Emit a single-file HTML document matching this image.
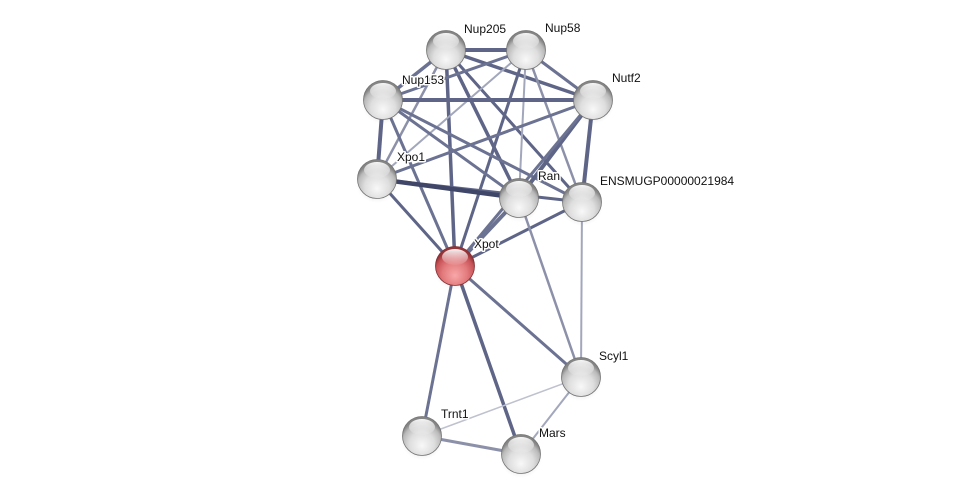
<!DOCTYPE html>
<html>
<head>
<meta charset="utf-8">
<style>
html,body{margin:0;padding:0;background:#fff;}
svg{display:block;}
text{font-family:"Liberation Sans",Arial,sans-serif;font-size:12px;fill:#111;stroke:#fff;stroke-width:3px;paint-order:stroke;stroke-linejoin:round;}
</style>
</head>
<body>
<svg width="975" height="499" viewBox="0 0 975 499" xmlns="http://www.w3.org/2000/svg">
<defs>
  <radialGradient id="gG" cx="50%" cy="68%" r="58%" fx="50%" fy="75%">
    <stop offset="0%" stop-color="#f8f8f8"/>
    <stop offset="55%" stop-color="#dedede"/>
    <stop offset="85%" stop-color="#bababa"/>
    <stop offset="100%" stop-color="#858585"/>
  </radialGradient>
  <radialGradient id="gR" cx="50%" cy="68%" r="58%" fx="50%" fy="75%">
    <stop offset="0%" stop-color="#f8a8aa"/>
    <stop offset="55%" stop-color="#e27a7c"/>
    <stop offset="85%" stop-color="#c85458"/>
    <stop offset="100%" stop-color="#963438"/>
  </radialGradient>
  <linearGradient id="hl" x1="0" y1="0" x2="0" y2="1">
    <stop offset="0%" stop-color="#fff" stop-opacity="0.95"/>
    <stop offset="100%" stop-color="#fff" stop-opacity="0.05"/>
  </linearGradient>
  <radialGradient id="sh" cx="50%" cy="50%" r="50%">
    <stop offset="0%" stop-color="#000" stop-opacity="0.18"/>
    <stop offset="100%" stop-color="#000" stop-opacity="0"/>
  </radialGradient>
</defs>

<g stroke-linecap="butt" fill="none">
  <line x1="446" y1="50" x2="526" y2="50" stroke="#5e6587" stroke-width="4"/>
  <line x1="446" y1="50" x2="383" y2="100" stroke="#6b7292" stroke-width="3.5"/>
  <line x1="446" y1="50" x2="593" y2="100" stroke="#5e6587" stroke-width="3.5"/>
  <line x1="446" y1="50" x2="377" y2="179" stroke="#8c91a9" stroke-width="2.5"/>
  <line x1="446" y1="50" x2="455" y2="266" stroke="#5e6587" stroke-width="3.5"/>
  <line x1="446" y1="50" x2="519" y2="198" stroke="#5e6587" stroke-width="3.5"/>
  <line x1="446" y1="50" x2="582" y2="202" stroke="#5e6587" stroke-width="3"/>
  <line x1="526" y1="50" x2="383" y2="100" stroke="#6b7292" stroke-width="3"/>
  <line x1="526" y1="50" x2="593" y2="100" stroke="#6b7292" stroke-width="3"/>
  <line x1="526" y1="50" x2="377" y2="179" stroke="#a2a7bc" stroke-width="2"/>
  <line x1="526" y1="50" x2="455" y2="266" stroke="#5e6587" stroke-width="3"/>
  <line x1="526" y1="50" x2="519" y2="198" stroke="#a2a7bc" stroke-width="2"/>
  <line x1="526" y1="50" x2="582" y2="202" stroke="#8c91a9" stroke-width="2.5"/>
  <line x1="383" y1="100" x2="593" y2="100" stroke="#5e6587" stroke-width="4"/>
  <line x1="383" y1="100" x2="377" y2="179" stroke="#5e6587" stroke-width="4"/>
  <line x1="383" y1="100" x2="519" y2="198" stroke="#6b7292" stroke-width="3"/>
  <line x1="383" y1="100" x2="582" y2="202" stroke="#6b7292" stroke-width="3"/>
  <line x1="383" y1="100" x2="455" y2="266" stroke="#6b7292" stroke-width="3"/>
  <line x1="593" y1="100" x2="377" y2="179" stroke="#6b7292" stroke-width="3"/>
  <line x1="593" y1="100" x2="519" y2="198" stroke="#5e6587" stroke-width="4"/>
  <line x1="593" y1="100" x2="582" y2="202" stroke="#5e6587" stroke-width="4"/>
  <line x1="593" y1="100" x2="455" y2="266" stroke="#6b7292" stroke-width="3"/>
  <line x1="377" y1="179" x2="582" y2="202" stroke="#5e6587" stroke-width="3"/>
  <line x1="377" y1="179" x2="519" y2="198" stroke="#3f4667" stroke-width="4.5"/>
  <line x1="377" y1="179" x2="455" y2="266" stroke="#5e6587" stroke-width="3"/>
  <line x1="519" y1="198" x2="455" y2="266" stroke="#6b7292" stroke-width="4"/>
  <line x1="582" y1="202" x2="455" y2="266" stroke="#5e6587" stroke-width="3"/>
  <line x1="519" y1="198" x2="581" y2="377" stroke="#8c91a9" stroke-width="2.5"/>
  <line x1="582" y1="202" x2="581" y2="377" stroke="#a2a7bc" stroke-width="2"/>
  <line x1="455" y1="266" x2="581" y2="377" stroke="#6b7292" stroke-width="3"/>
  <line x1="455" y1="266" x2="422" y2="436" stroke="#6b7292" stroke-width="3"/>
  <line x1="455" y1="266" x2="521" y2="454" stroke="#5e6587" stroke-width="3.5"/>
  <line x1="581" y1="377" x2="422" y2="436" stroke="#bec1ce" stroke-width="1.5"/>
  <line x1="581" y1="377" x2="521" y2="454" stroke="#a2a7bc" stroke-width="2"/>
  <line x1="422" y1="436" x2="521" y2="454" stroke="#8c91a9" stroke-width="3"/>
</g>

<g id="nodes">
  <g transform="translate(446,50)"><ellipse cx="0" cy="4" rx="21" ry="20" fill="url(#sh)"/><circle r="19.5" fill="url(#gG)" stroke="#747474" stroke-width="0.8"/><ellipse cx="0" cy="-9" rx="13" ry="8" fill="url(#hl)"/></g>
  <g transform="translate(526,50)"><ellipse cx="0" cy="4" rx="21" ry="20" fill="url(#sh)"/><circle r="19.5" fill="url(#gG)" stroke="#747474" stroke-width="0.8"/><ellipse cx="0" cy="-9" rx="13" ry="8" fill="url(#hl)"/></g>
  <g transform="translate(383,100)"><ellipse cx="0" cy="4" rx="21" ry="20" fill="url(#sh)"/><circle r="19.5" fill="url(#gG)" stroke="#747474" stroke-width="0.8"/><ellipse cx="0" cy="-9" rx="13" ry="8" fill="url(#hl)"/></g>
  <g transform="translate(593,100)"><ellipse cx="0" cy="4" rx="21" ry="20" fill="url(#sh)"/><circle r="19.5" fill="url(#gG)" stroke="#747474" stroke-width="0.8"/><ellipse cx="0" cy="-9" rx="13" ry="8" fill="url(#hl)"/></g>
  <g transform="translate(377,179)"><ellipse cx="0" cy="4" rx="21" ry="20" fill="url(#sh)"/><circle r="19.5" fill="url(#gG)" stroke="#747474" stroke-width="0.8"/><ellipse cx="0" cy="-9" rx="13" ry="8" fill="url(#hl)"/></g>
  <g transform="translate(519,198)"><ellipse cx="0" cy="4" rx="21" ry="20" fill="url(#sh)"/><circle r="19.5" fill="url(#gG)" stroke="#747474" stroke-width="0.8"/><ellipse cx="0" cy="-9" rx="13" ry="8" fill="url(#hl)"/></g>
  <g transform="translate(582,202)"><ellipse cx="0" cy="4" rx="21" ry="20" fill="url(#sh)"/><circle r="19.5" fill="url(#gG)" stroke="#747474" stroke-width="0.8"/><ellipse cx="0" cy="-9" rx="13" ry="8" fill="url(#hl)"/></g>
  <g transform="translate(455,266)"><ellipse cx="0" cy="4" rx="21" ry="20" fill="url(#sh)"/><circle r="19.5" fill="url(#gR)" stroke="#823034" stroke-width="0.8"/><ellipse cx="0" cy="-9" rx="13" ry="8" fill="url(#hl)"/></g>
  <g transform="translate(581,377)"><ellipse cx="0" cy="4" rx="21" ry="20" fill="url(#sh)"/><circle r="19.5" fill="url(#gG)" stroke="#747474" stroke-width="0.8"/><ellipse cx="0" cy="-9" rx="13" ry="8" fill="url(#hl)"/></g>
  <g transform="translate(422,436)"><ellipse cx="0" cy="4" rx="21" ry="20" fill="url(#sh)"/><circle r="19.5" fill="url(#gG)" stroke="#747474" stroke-width="0.8"/><ellipse cx="0" cy="-9" rx="13" ry="8" fill="url(#hl)"/></g>
  <g transform="translate(521,454)"><ellipse cx="0" cy="4" rx="21" ry="20" fill="url(#sh)"/><circle r="19.5" fill="url(#gG)" stroke="#747474" stroke-width="0.8"/><ellipse cx="0" cy="-9" rx="13" ry="8" fill="url(#hl)"/></g>
</g>

<text x="464" y="33">Nup205</text>
<text x="545" y="32">Nup58</text>
<text x="402" y="84">Nup153</text>
<text x="612" y="82">Nutf2</text>
<text x="397" y="161">Xpo1</text>
<text x="538" y="180">Ran</text>
<text x="600" y="185">ENSMUGP00000021984</text>
<text x="474" y="248">Xpot</text>
<text x="599" y="360">Scyl1</text>
<text x="441" y="418">Trnt1</text>
<text x="539" y="437">Mars</text>
</svg>
</body>
</html>
